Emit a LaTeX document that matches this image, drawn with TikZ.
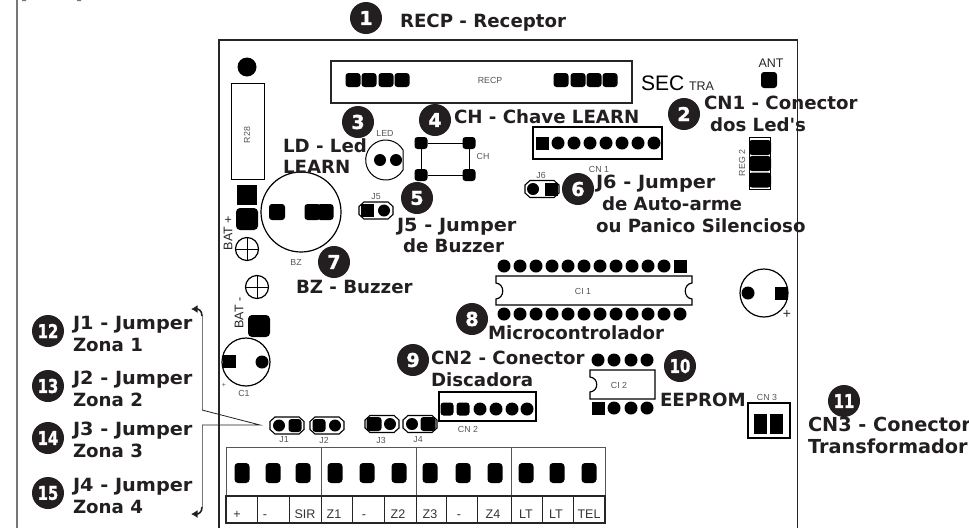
\documentclass[tikz,border=0pt]{standalone}
\usepackage{fontspec}
\setmainfont{Liberation Sans}
\newfontfamily\lblfont{DejaVu Sans}[BoldFont={DejaVu Sans Bold}]
\newfontfamily\bdgfont{DejaVu Sans Bold}[FakeBold=1.6]
\usetikzlibrary{arrows.meta}
\definecolor{ink}{HTML}{231F20}
\definecolor{gry}{HTML}{555555}
\newcommand{\pxfont}[1]{\fontsize{#1}{#1}\selectfont}
\newcommand{\dbl}[1]{\scalebox{.78}[1]{#1}}
\newcommand{\jw}[1]{\scalebox{1.06}[1]{#1}}
\newcommand{\jmpbox}[2]{\draw[jmpline] (#1-12,#2-8.5) -- (#1+12,#2-8.5) -- (#1+17,#2-4) -- (#1+17,#2+4) -- (#1+12,#2+8.5) -- (#1-12,#2+8.5) -- (#1-17,#2+4) -- (#1-17,#2-4) -- cycle;}
\tikzset{
  x=1pt,y=-1pt,
  every node/.style={inner sep=0pt,outer sep=0pt},
  badge/.style={circle,fill=ink,minimum size=32pt,text=white,font=\bdgfont\pxfont{19}},
  lbl/.style={anchor=base west,text=ink,font=\lblfont\bfseries\pxfont{18.2}},
  lblbig/.style={lbl,font=\lblfont\bfseries\pxfont{19.3}},
  tiny/.style={text=gry,font=\pxfont{8.8}},
  pin/.style={circle,fill=black,minimum size=13pt},
  sqpin/.style={rectangle,fill=black,minimum size=13pt},
  rpad/.style={rectangle,fill=black,rounded corners=3pt,minimum width=15pt,minimum height=14pt},
  tpad/.style={rectangle,fill=black,rounded corners=3.5pt,minimum width=15pt,minimum height=20pt},
  bpad/.style={rectangle,fill=black,rounded corners=4pt,minimum width=22pt,minimum height=22pt},
  jmpline/.style={draw=black,line width=1.1pt},
  part/.style={draw=black,line width=1pt},
  parttwo/.style={draw=black,line width=1.2pt},
  tlabel/.style={anchor=base,text=black!80,font=\pxfont{12.5}},
}
\begin{document}
\begin{tikzpicture}
\useasboundingbox (0,0) rectangle (969,528);
\fill[white] (0,0) rectangle (969,528);
% margin rule and board outline
\draw[gry!80,line width=1.2pt] (17,0) -- (17,528);
\fill[gry!80] (22,0) rectangle (26,1) (77,0) rectangle (81,1);
\draw[black!85,line width=1.2pt] (219,528) -- (219,40) -- (797.5,40) -- (797.5,528);
% RECP
\draw[parttwo,black!85] (331,61) rectangle (632,103);
\foreach \n/\x in {a/353,b/369,c/386,d/402,e/561,f/578,g/594,h/610}
  \node[rpad] (recp\n) at (\x,80) {};
\node[tiny] (recplbl) at (490,80.5) {RECP};
\node[anchor=base west,font=\pxfont{21}] (sec) at (641,90) {SEC};
\node[anchor=base west,text=black!85,font=\pxfont{12.5}] (tra) at (689,90) {TRA};
\node[text=black!85,font=\pxfont{12.5}] (ant) at (771,63) {ANT};
\node[rpad,minimum width=16pt,minimum height=16pt] (antpad) at (769,80) {};
% R28
\node[circle,fill=black,minimum size=19pt] (topdot) at (247,67) {};
\draw[part] (231,83) rectangle (264,179);
\node[tiny,rotate=90] (r28) at (247,135) {R28};
\node[rectangle,fill=black,minimum width=20pt,minimum height=20pt] (batsq) at (247,195) {};
\node[bpad] (batp) at (247,219) {};
\node[rotate=90,text=black!85,font=\pxfont{12.5}] (batplus) at (228,233) {BAT +};
\draw[parttwo] (247,249) circle (11.5);
\draw[part] (235.5,249) -- (258.5,249) (247,237.5) -- (247,260.5);
% Buzzer
\draw[parttwo] (301,212) circle (40);
\node[rpad,minimum width=16pt,minimum height=16pt] (bz1) at (277,212) {};
\node[rpad,minimum width=16pt,minimum height=16pt] (bz2) at (312.5,212) {};
\node[rpad,minimum width=16pt,minimum height=16pt] (bz3) at (325.5,212) {};
\node[tiny] (bz) at (296,262) {BZ};
% LED
\draw[part] (403,150) arc[start angle=30,delta angle=300,radius=20pt] -- cycle;
\node[pin,minimum size=12pt] (led1) at (380,160) {};
\node[pin,minimum size=12pt] (led2) at (396,160) {};
\node[tiny] (ledlbl) at (385,133) {LED};
% Switch
\node[rpad,minimum width=13pt,minimum height=12pt] (sw1) at (421,143) {};
\node[rpad,minimum width=13pt,minimum height=12pt] (sw2) at (469,143) {};
\node[rpad,minimum width=13pt,minimum height=12pt] (sw3) at (469,175) {};
\node[rpad,minimum width=13pt,minimum height=12pt] (sw4) at (421,175) {};
\draw[part] (sw1) -- (sw2) -- (sw3) -- (sw4) -- (sw1);
\node[tiny] (chlbl) at (483,156) {CH};
% J5
\jmpbox{376}{210.5}
\node[sqpin] (j5a) at (367,210.5) {};
\node[pin,minimum size=12pt] (j5b) at (384,210.5) {};
\node[tiny] (j5lbl) at (376,197) {J5};
% CN1
\draw[parttwo] (533,127) rectangle (662,159);
\node[sqpin] (cn1p0) at (542,143) {};
\foreach \x in {558,574,590,606,622,638,654}
  \node[pin] (cn1p\x) at (\x,143) {};
\node[tiny] (cn1lbl) at (599,169) {CN 1};
% J6
\jmpbox{542}{189}
\node[pin,minimum size=12pt] (j6a) at (533,189) {};
\node[sqpin] (j6b) at (551,189) {};
\node[tiny] (j6lbl) at (541,175) {J6};
% REG2
\draw[part] (749,137) rectangle (770,189);
\foreach \n/\y in {a/147.5,b/163.5,c/180}
  \node[rpad,minimum width=22pt,minimum height=15pt] (reg\n) at (760,\y) {};
\node[tiny,rotate=90] (reglbl) at (742,163) {REG 2};
% CI1
\foreach \x in {504,520,536,552,568,584,600,616,632,648,664}
  \node[pin] (cia\x) at (\x,266) {};
\node[sqpin] (ciasq) at (680,266) {};
\foreach \x in {504,520,536,552,568,584,600,616,632,648,664,680}
  \node[pin] (cib\x) at (\x,314) {};
\draw[parttwo] (496,276) -- (692,276) -- (692,283) .. controls (683,284) and (683,298) .. (692,299) -- (692,305) -- (496,305) -- (496,299) .. controls (505,298) and (505,284) .. (496,283) -- cycle;
\node[tiny] (ci1lbl) at (583,291) {CI 1};
% right capacitor
\draw[parttwo] (764,293) circle (24);
\node[pin] (capa) at (748,293) {};
\node[sqpin] (capb) at (781,293.5) {};
\node[font=\pxfont{14},text=black!85] (capplus) at (787,314) {+};
% C1
\draw[parttwo] (246,362) circle (24);
\node[sqpin] (c1a) at (229.5,361.5) {};
\node[pin] (c1b) at (262,362) {};
\node[tiny] (c1lbl) at (244,393) {C1};
\node[tiny,font=\pxfont{7}] (c1plus) at (224,385) {+};
% BAT -
\draw[parttwo] (257,287) circle (11.5);
\draw[part] (245.5,287) -- (268.5,287) (257,275.5) -- (257,298.5);
\node[rotate=90,text=black!85,font=\pxfont{12.5}] (batminus) at (239,313) {BAT -};
\node[bpad] (batm) at (259,326) {};
% CN2
\draw[parttwo] (439,392) rectangle (536,421);
\node[rpad,minimum width=13pt,minimum height=13pt] (cn2a) at (447,409) {};
\node[rpad,minimum width=13pt,minimum height=13pt] (cn2b) at (463,409) {};
\foreach \x in {480,496,512,527}
  \node[pin] (cn2p\x) at (\x,409) {};
\node[tiny] (cn2lbl) at (468,429) {CN 2};
% CI2
\foreach \x in {598,614,631,647}
  \node[pin] (cit\x) at (\x,360) {};
\node[sqpin] (cibsq) at (598,408) {};
\foreach \x in {614,631,647}
  \node[pin] (cid\x) at (\x,408) {};
\draw[parttwo] (590,370) -- (655,370) -- (655,399) -- (590,399) -- (590,392) .. controls (599,391) and (599,378) .. (590,377) -- cycle;
\node[tiny] (ci2lbl) at (619,385) {CI 2};
% CN3
\draw[parttwo] (748,403) rectangle (790,438);
\node[rectangle,fill=black,minimum width=13pt,minimum height=20pt] (cn3a) at (760.5,424) {};
\node[rectangle,fill=black,minimum width=13pt,minimum height=20pt] (cn3b) at (776.5,424) {};
\node[tiny] (cn3lbl) at (767,397) {CN 3};
% Jumpers J1-J4
\jmpbox{287}{425.5}
\node[pin,minimum size=12pt] (j1a) at (279,425.5) {};
\node[rpad,minimum width=13pt,minimum height=13pt] (j1b) at (295,425.5) {};
\node[tiny] (j1lbl) at (284,440) {J1};
\jmpbox{327}{425.5}
\node[rpad,minimum width=13pt,minimum height=13pt] (j2a) at (319,425.5) {};
\node[pin,minimum size=12pt] (j2b) at (335,425.5) {};
\node[tiny] (j2lbl) at (324,440) {J2};
\jmpbox{382}{424}
\node[rpad,minimum width=15pt,minimum height=14pt] (j3a) at (374,424) {};
\node[pin,minimum size=12pt] (j3b) at (390,424) {};
\node[tiny] (j3lbl) at (381,440) {J3};
\jmpbox{420}{424}
\node[pin,minimum size=12pt] (j4a) at (412,424) {};
\node[rpad,minimum width=15pt,minimum height=14pt] (j4b) at (428,424) {};
\node[tiny] (j4lbl) at (418,440) {J4};
% Terminal block
\draw[gry,line width=0.8pt] (226,496) -- (226,447) -- (605,447) -- (605,496);
\foreach \x in {321,416,511} \draw[gry,line width=0.8pt] (\x,447) -- (\x,496);
\draw[black!85,line width=1.1pt] (226,496) rectangle (605,523);
\foreach \x in {257,289,321,352,384,416,446,477,511,542,573}
  \draw[black!85,line width=1pt] (\x,496) -- (\x,523);
\foreach \x in {242,273,303,335,367,399,430,463,495,526,557,589}
  \node[tpad] (tb\x) at (\x,473) {};
\foreach \x/\t in {237/+,265/-,305/SIR,334/Z1,364/-,398/Z2,430/Z3,459/-,493/Z4,526/LT,556/LT,589/TEL}
  \node[tlabel] (tl\x) at (\x,518) {\t};
% Bracket
\coordinate (brtop) at (191,309);
\coordinate (brtopv) at (202,316);
\coordinate (brbot) at (191,514);
\coordinate (brbotv) at (202,507);
\coordinate (brmid) at (202,410);
\coordinate (brmidb) at (202,425);
\coordinate (brj) at (260,425);
\draw[gry!80,line width=1pt] (brmid) -- (brtopv);
\draw[gry!80,line width=1pt] (brmidb) -- (brbotv);
\draw[ink,line width=1.6pt,-{Latex[length=6.5pt,width=8pt]}] (brtopv) .. controls (202,311) and (199,309) .. (brtop);
\draw[ink,line width=1.6pt,-{Latex[length=6.5pt,width=8pt]}] (brbotv) .. controls (202,512) and (199,514) .. (brbot);
\draw[ink,line width=0.8pt] (brmid) -- (brj) -- (brmidb);
% Badges
\node[badge] (n1) at (366,18) {1};
\node[badge] (n2) at (684,114) {2};
\node[badge] (n3) at (358,122) {3};
\node[badge] (n4) at (435,120) {4};
\node[badge] (n5) at (417,198) {5};
\node[badge] (n6) at (578,189) {6};
\node[badge] (n7) at (334,262) {7};
\node[badge] (n8) at (472,319) {8};
\node[badge] (n9) at (413,360) {9};
\node[badge] (n10) at (680,366) {\dbl{10}};
\node[badge] (n11) at (844,401) {\dbl{11}};
\node[badge] (n12) at (48,331) {\dbl{12}};
\node[badge] (n13) at (48,386) {\dbl{13}};
\node[badge] (n14) at (48,438) {\dbl{14}};
\node[badge] (n15) at (48,493) {\dbl{15}};
% Labels
\node[lbl] (t1) at (400,27) {RECP - Receptor};
\node[lbl] (t2a) at (704,109) {CN1 - Conector};
\node[lbl] (t2b) at (710,131) {dos Led's};
\node[lbl] (t3a) at (283,152) {LD - Led};
\node[lbl] (t3b) at (283,173) {LEARN};
\node[lbl] (t4) at (454,123) {CH - Chave LEARN};
\node[lbl] (t5a) at (397,231) {\jw{J5 - Jumper}};
\node[lbl] (t5b) at (403,252) {de Buzzer};
\node[lbl] (t6a) at (596,188) {\jw{J6 - Jumper}};
\node[lbl] (t6b) at (602,210) {de Auto-arme};
\node[lbl] (t6c) at (596,232) {ou Panico Silencioso};
\node[lbl] (t7) at (296,293) {BZ - Buzzer};
\node[lbl] (t8) at (488,339) {Microcontrolador};
\node[lbl] (t9a) at (431,364) {CN2 - Conector};
\node[lbl] (t9b) at (431,386) {Discadora};
\node[lbl] (t10) at (660,406) {EEPROM};
\node[lblbig] (t11a) at (808,431) {CN3 - Conector};
\node[lblbig] (t11b) at (808,453) {Transformador};
\node[lbl] (t12a) at (73,329) {\jw{J1 - Jumper}};
\node[lbl] (t12b) at (73,351) {Zona 1};
\node[lbl] (t13a) at (73,384) {\jw{J2 - Jumper}};
\node[lbl] (t13b) at (73,406) {Zona 2};
\node[lbl] (t14a) at (73,435) {\jw{J3 - Jumper}};
\node[lbl] (t14b) at (73,457) {Zona 3};
\node[lbl] (t15a) at (73,491) {\jw{J4 - Jumper}};
\node[lbl] (t15b) at (73,513) {Zona 4};
\end{tikzpicture}
\end{document}
